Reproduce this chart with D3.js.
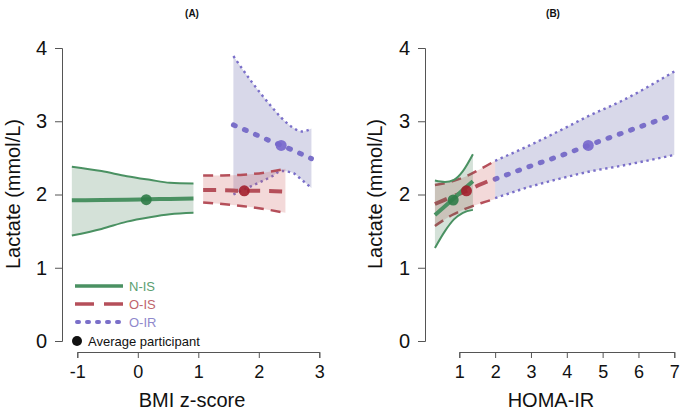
<!DOCTYPE html>
<html><head><meta charset="utf-8">
<script src="https://cdn.jsdelivr.net/npm/d3@7"></script>
<style>
body{margin:0;background:#fff;}
svg{display:block;font-family:Arial,"Liberation Sans",sans-serif;}
</style></head>
<body><svg id="c" width="685" height="410"></svg>
<script>
// ---------- data ----------
const panelTitles = ["(A)", "(B)"];
const xTitles = ["BMI z-score", "HOMA-IR"];
const yTitle = "Lactate (mmol/L)";
const yTicks = [0, 1, 2, 3, 4];
const xTicksA = [-1, 0, 1, 2, 3];
const xTicksB = [1, 2, 3, 4, 5, 6, 7];
const groups = ["N-IS", "O-IS", "O-IR"];
const legendPoint = "Average participant";

// Panel A: BMI z-score
const bmiNIS_x   = [-1.09, -0.6, -0.18, 0.2, 0.53, 0.92];
const bmiNIS_fit = [1.92, 1.925, 1.93, 1.935, 1.94, 1.945];
const bmiNIS_hi  = [2.38, 2.32, 2.25, 2.2, 2.16, 2.15];
const bmiNIS_lo  = [1.44, 1.53, 1.63, 1.69, 1.73, 1.75];

const bmiOIS_x   = [1.08, 1.4, 1.75, 2.1, 2.44];
const bmiOIS_fit = [2.06, 2.06, 2.05, 2.05, 2.04];
const bmiOIS_hi  = [2.26, 2.26, 2.27, 2.3, 2.35];
const bmiOIS_lo  = [1.89, 1.87, 1.84, 1.8, 1.75];

const bmiOIR_x   = [1.58, 1.89, 2.22, 2.37, 2.55, 2.71, 2.87];
const bmiOIR_fit = [2.95, 2.84, 2.72, 2.67, 2.61, 2.55, 2.49];
const bmiOIR_hi  = [3.89, 3.53, 3.19, 3.05, 2.92, 2.86, 2.9];
const bmiOIR_lo  = [2.0, 2.12, 2.25, 2.32, 2.3, 2.2, 2.09];

const bmiAvg_x = [0.14, 1.76, 2.37];
const bmiAvg_y = [1.93, 2.05, 2.67];

// Panel B: HOMA-IR
const homaNIS_x   = [0.32, 0.6, 0.85, 1.1, 1.38];
const homaNIS_fit = [1.72, 1.84, 1.95, 2.06, 2.18];
const homaNIS_hi  = [2.19, 2.17, 2.2, 2.32, 2.55];
const homaNIS_lo  = [1.27, 1.5, 1.66, 1.75, 1.79];

const homaOIS_x   = [0.32, 0.8, 1.2, 1.6, 2.0];
const homaOIS_fit = [1.87, 1.97, 2.05, 2.14, 2.22];
const homaOIS_hi  = [2.13, 2.18, 2.25, 2.35, 2.46];
const homaOIS_lo  = [1.57, 1.72, 1.81, 1.88, 1.94];

const homaOIR_x   = [2.0, 3.0, 4.0, 4.6, 5.5, 7.0];
const homaOIR_fit = [2.21, 2.39, 2.56, 2.67, 2.83, 3.09];
const homaOIR_hi  = [2.46, 2.68, 2.92, 3.07, 3.27, 3.68];
const homaOIR_lo  = [1.95, 2.11, 2.24, 2.31, 2.39, 2.54];

const homaAvg_x = [0.83, 1.2, 4.6];
const homaAvg_y = [1.925, 2.05, 2.67];

// ---------- styles ----------
const lineCol  = {"N-IS":"#4a9162", "O-IS":"#b54f5a", "O-IR":"#7a6fc9"};
const fillCol  = {"N-IS":"rgba(60,120,78,0.22)", "O-IS":"rgba(205,95,95,0.24)", "O-IR":"rgba(105,105,170,0.26)"};
const ptCol    = {"N-IS":"#2f7c48", "O-IS":"#a31f2c", "O-IR":"#7767cc"};
const textCol  = {"N-IS":"#5a9e70", "O-IS":"#c0646c", "O-IR":"#9088cc"};
const centerStyle = {
  "N-IS":{w:4, dash:null, cap:"butt"},
  "O-IS":{w:4, dash:"13,9", cap:"butt"},
  "O-IR":{w:5, dash:"2,10", cap:"round"}
};
const bandStyle = {
  "N-IS":{w:2, dash:null, cap:"butt"},
  "O-IS":{w:2.5, dash:"10,7", cap:"butt"},
  "O-IR":{w:2.4, dash:"2.4,3.6", cap:"butt"}
};

const svg = d3.select("#c");
const y = d3.scaleLinear().domain([0,4]).range([341,48]);
const fmt = d => String(d);

function drawPanel(cfg){
  const g = svg.append("g");
  const x = d3.scaleLinear().domain(cfg.xdom).range(cfg.xrange);
  // bands & lines, order: O-IR, O-IS, N-IS
  cfg.series.forEach(s=>{
    const pts = s.x.map((v,i)=>({x:v, fit:s.fit[i], lo:s.lo[i], hi:s.hi[i]}));
    g.append("path").datum(pts)
      .attr("d", d3.area().x(d=>x(d.x)).y0(d=>y(d.lo)).y1(d=>y(d.hi)).curve(d3.curveMonotoneX))
      .attr("fill", fillCol[s.g]).attr("stroke","none");
    ["lo","hi"].forEach(k=>{
      const bs = bandStyle[s.g];
      g.append("path").datum(pts)
        .attr("d", d3.line().x(d=>x(d.x)).y(d=>y(d[k])).curve(d3.curveMonotoneX))
        .attr("fill","none").attr("stroke", lineCol[s.g])
        .attr("stroke-width", bs.w).attr("stroke-dasharray", bs.dash)
        .attr("stroke-linecap", bs.cap);
    });
    const cs = centerStyle[s.g];
    g.append("path").datum(pts)
      .attr("d", d3.line().x(d=>x(d.x)).y(d=>y(d.fit)).curve(d3.curveMonotoneX))
      .attr("fill","none").attr("stroke", lineCol[s.g])
      .attr("stroke-width", cs.w).attr("stroke-dasharray", cs.dash)
      .attr("stroke-linecap", cs.cap);
  });
  // average participant points
  cfg.avgX.forEach((v,i)=>{
    g.append("circle").attr("cx", x(v)).attr("cy", y(cfg.avgY[i])).attr("r",5.5)
      .attr("fill", ptCol[groups[i]]).attr("fill-opacity",0.9);
  });
  // axes
  const ax = g.append("g").attr("transform","translate(0,352)")
    .call(d3.axisBottom(x).tickValues(cfg.xticks).tickFormat(fmt).tickSizeOuter(0).tickSize(6).tickPadding(7));
  ax.selectAll("text").attr("font-size",18).attr("fill","#111").attr("font-family","Arial, Liberation Sans, sans-serif");
  const ay = g.append("g").attr("transform",`translate(${cfg.yaxisX},0)`)
    .call(d3.axisLeft(y).tickValues(yTicks).tickFormat(fmt).tickSizeOuter(0).tickSize(7).tickPadding(8));
  ay.selectAll("text").attr("font-size",20).attr("fill","#111").attr("font-family","Arial, Liberation Sans, sans-serif");
  [ax, ay].forEach(a=>{
    a.selectAll("path,line").attr("stroke","#555").attr("stroke-width",1);
  });
  // titles
  g.append("text").attr("x", cfg.titleX).attr("y", 17).attr("text-anchor","middle")
    .attr("font-size",10).attr("font-weight","bold").attr("fill","#111").text(cfg.title);
  g.append("text").attr("x", cfg.xTitleX).attr("y", 407).attr("text-anchor","middle")
    .attr("font-size",20).attr("fill","#111").text(cfg.xTitle);
  g.append("text").attr("transform",`translate(${cfg.yTitleX},194) rotate(-90)`)
    .attr("text-anchor","middle").attr("font-size",20).attr("fill","#111").text(yTitle);
  return {g, x};
}

drawPanel({
  xdom:[-1,3], xrange:[77.3,319.3], xticks:xTicksA, yaxisX:62,
  title:panelTitles[0], titleX:192, xTitle:xTitles[0], xTitleX:192, yTitleX:20,
  series:[
    {g:"O-IR", x:bmiOIR_x, fit:bmiOIR_fit, lo:bmiOIR_lo, hi:bmiOIR_hi},
    {g:"O-IS", x:bmiOIS_x, fit:bmiOIS_fit, lo:bmiOIS_lo, hi:bmiOIS_hi},
    {g:"N-IS", x:bmiNIS_x, fit:bmiNIS_fit, lo:bmiNIS_lo, hi:bmiNIS_hi}
  ],
  avgX:bmiAvg_x, avgY:bmiAvg_y
});
drawPanel({
  xdom:[1,7], xrange:[459.3,674.3], xticks:xTicksB, yaxisX:425,
  title:panelTitles[1], titleX:553, xTitle:xTitles[1], xTitleX:551, yTitleX:382,
  series:[
    {g:"O-IR", x:homaOIR_x, fit:homaOIR_fit, lo:homaOIR_lo, hi:homaOIR_hi},
    {g:"O-IS", x:homaOIS_x, fit:homaOIS_fit, lo:homaOIS_lo, hi:homaOIS_hi},
    {g:"N-IS", x:homaNIS_x, fit:homaNIS_fit, lo:homaNIS_lo, hi:homaNIS_hi}
  ],
  avgX:homaAvg_x, avgY:homaAvg_y
});

// legend (panel A)
const leg = svg.append("g");
groups.forEach((gname,i)=>{
  const yy = 286 + i*18;
  leg.append("line").attr("x1", gname==="O-IR"?77:75).attr("x2",123).attr("y1",yy).attr("y2",yy)
    .attr("stroke", lineCol[gname]).attr("stroke-width", gname==="O-IR"?4:3.5)
    .attr("stroke-dasharray", gname==="N-IS"?null:(gname==="O-IS"?"19,10":"2,8"))
    .attr("stroke-linecap", gname==="O-IR"?"round":"butt");
  leg.append("text").attr("x",129).attr("y",yy+4.5).attr("font-size",13)
    .attr("fill", textCol[gname]).text(gname);
});
leg.append("circle").attr("cx",77).attr("cy",341).attr("r",5).attr("fill","#111");
leg.append("text").attr("x",88).attr("y",345.5).attr("font-size",13).attr("fill","#111").text(legendPoint);
</script></body></html>
